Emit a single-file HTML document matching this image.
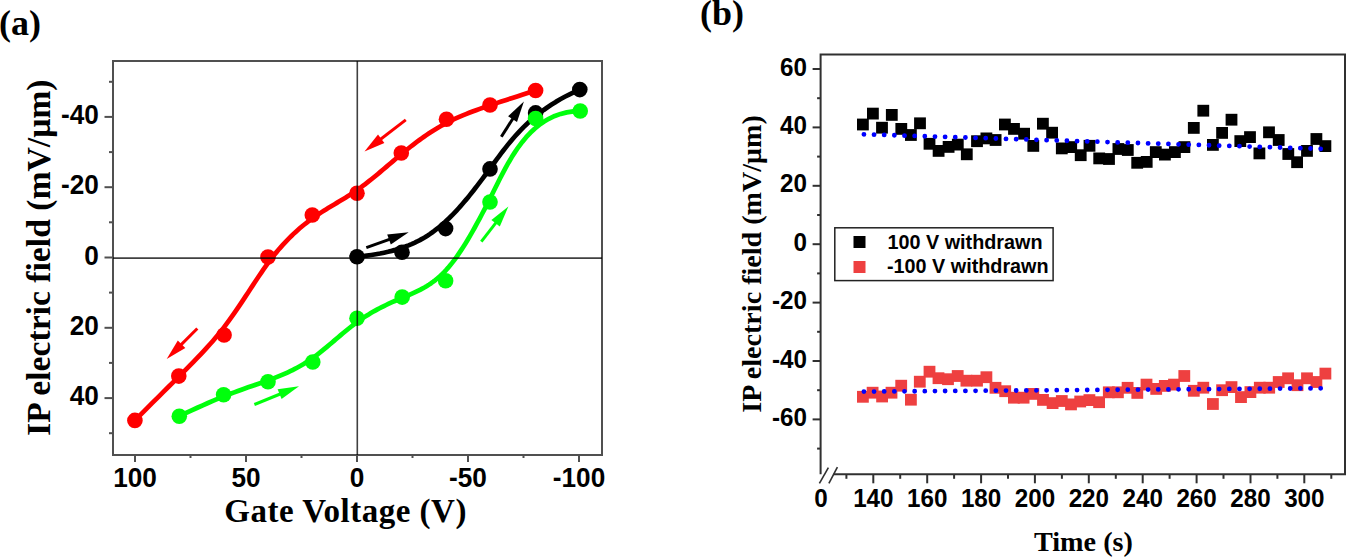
<!DOCTYPE html>
<html><head><meta charset="utf-8"><style>
html,body{margin:0;padding:0;background:#fff;}
body{width:1347px;height:557px;overflow:hidden;font-family:"Liberation Sans", sans-serif;}
svg{display:block;}
</style></head><body>
<svg width="1347" height="557" viewBox="0 0 1347 557">
<rect width="1347" height="557" fill="#fff"/>
<text transform="translate(-1.00,35.00)" font-family='"Liberation Serif", serif' font-weight="bold" font-size="36">(a)</text>
<text transform="translate(700.00,25.00)" font-family='"Liberation Serif", serif' font-weight="bold" font-size="36">(b)</text>
<rect x="113" y="61" width="489" height="394" fill="none" stroke="#505050" stroke-width="2"/>
<line x1="109.0" y1="81.8" x2="113.0" y2="81.8" stroke="#505050" stroke-width="2"/>
<line x1="104.5" y1="116.9" x2="113.0" y2="116.9" stroke="#505050" stroke-width="2"/>
<text transform="translate(98.80,124.00) scale(1,1.03)" text-anchor="end" font-family='"Liberation Sans", sans-serif' font-weight="bold" font-size="26.2">-40</text>
<line x1="109.0" y1="152.1" x2="113.0" y2="152.1" stroke="#505050" stroke-width="2"/>
<line x1="104.5" y1="187.2" x2="113.0" y2="187.2" stroke="#505050" stroke-width="2"/>
<text transform="translate(98.80,194.30) scale(1,1.03)" text-anchor="end" font-family='"Liberation Sans", sans-serif' font-weight="bold" font-size="26.2">-20</text>
<line x1="109.0" y1="222.3" x2="113.0" y2="222.3" stroke="#505050" stroke-width="2"/>
<line x1="104.5" y1="257.5" x2="113.0" y2="257.5" stroke="#505050" stroke-width="2"/>
<text transform="translate(98.80,264.60) scale(1,1.03)" text-anchor="end" font-family='"Liberation Sans", sans-serif' font-weight="bold" font-size="26.2">0</text>
<line x1="109.0" y1="292.6" x2="113.0" y2="292.6" stroke="#505050" stroke-width="2"/>
<line x1="104.5" y1="327.8" x2="113.0" y2="327.8" stroke="#505050" stroke-width="2"/>
<text transform="translate(98.80,334.90) scale(1,1.03)" text-anchor="end" font-family='"Liberation Sans", sans-serif' font-weight="bold" font-size="26.2">20</text>
<line x1="109.0" y1="362.9" x2="113.0" y2="362.9" stroke="#505050" stroke-width="2"/>
<line x1="104.5" y1="398.1" x2="113.0" y2="398.1" stroke="#505050" stroke-width="2"/>
<text transform="translate(98.80,405.20) scale(1,1.03)" text-anchor="end" font-family='"Liberation Sans", sans-serif' font-weight="bold" font-size="26.2">40</text>
<line x1="109.0" y1="433.2" x2="113.0" y2="433.2" stroke="#505050" stroke-width="2"/>
<line x1="579.0" y1="455" x2="579.0" y2="462.0" stroke="#505050" stroke-width="2"/>
<text transform="translate(579.00,487.10) scale(1,1.03)" text-anchor="middle" font-family='"Liberation Sans", sans-serif' font-weight="bold" font-size="26.2">-100</text>
<line x1="523.5" y1="455" x2="523.5" y2="458.0" stroke="#505050" stroke-width="2"/>
<line x1="468.0" y1="455" x2="468.0" y2="462.0" stroke="#505050" stroke-width="2"/>
<text transform="translate(468.00,487.10) scale(1,1.03)" text-anchor="middle" font-family='"Liberation Sans", sans-serif' font-weight="bold" font-size="26.2">-50</text>
<line x1="412.5" y1="455" x2="412.5" y2="458.0" stroke="#505050" stroke-width="2"/>
<line x1="357.0" y1="455" x2="357.0" y2="462.0" stroke="#505050" stroke-width="2"/>
<text transform="translate(357.00,487.10) scale(1,1.03)" text-anchor="middle" font-family='"Liberation Sans", sans-serif' font-weight="bold" font-size="26.2">0</text>
<line x1="301.5" y1="455" x2="301.5" y2="458.0" stroke="#505050" stroke-width="2"/>
<line x1="246.0" y1="455" x2="246.0" y2="462.0" stroke="#505050" stroke-width="2"/>
<text transform="translate(246.00,487.10) scale(1,1.03)" text-anchor="middle" font-family='"Liberation Sans", sans-serif' font-weight="bold" font-size="26.2">50</text>
<line x1="190.5" y1="455" x2="190.5" y2="458.0" stroke="#505050" stroke-width="2"/>
<line x1="135.0" y1="455" x2="135.0" y2="462.0" stroke="#505050" stroke-width="2"/>
<text transform="translate(135.00,487.10) scale(1,1.03)" text-anchor="middle" font-family='"Liberation Sans", sans-serif' font-weight="bold" font-size="26.2">100</text>
<path d="M357.00,256.80 L361.97,256.26 L366.74,255.66 L371.33,255.01 L375.75,254.29 L380.00,253.52 L384.08,252.68 L388.00,251.80 L391.77,250.86 L395.39,249.86 L398.88,248.81 L402.23,247.71 L405.45,246.56 L408.55,245.36 L411.54,244.12 L414.42,242.82 L417.20,241.48 L419.88,240.09 L422.47,238.66 L424.98,237.19 L427.41,235.67 L429.77,234.12 L432.07,232.52 L434.30,230.89 L436.49,229.21 L438.62,227.50 L440.72,225.76 L442.78,223.98 L444.82,222.16 L446.83,220.31 L448.81,218.43 L450.77,216.51 L452.71,214.56 L454.64,212.57 L456.54,210.55 L458.44,208.49 L460.32,206.39 L462.19,204.26 L464.05,202.09 L465.91,199.89 L467.77,197.65 L469.62,195.37 L471.48,193.05 L473.34,190.70 L475.20,188.30 L477.07,185.87 L478.96,183.40 L480.85,180.90 L482.76,178.35 L484.68,175.76 L486.62,173.14 L488.58,170.47 L490.57,167.77 L492.57,165.02 L494.61,162.24 L496.68,159.42 L498.79,156.56 L500.94,153.68 L503.15,150.77 L505.41,147.84 L507.75,144.89 L510.16,141.94 L512.66,138.98 L515.24,136.01 L517.92,133.05 L520.70,130.10 L523.60,127.15 L526.61,124.23 L529.75,121.32 L533.02,118.43 L536.43,115.58 L539.99,112.76 L543.70,109.98 L547.57,107.23 L551.62,104.54 L555.83,101.90 L560.23,99.31 L564.82,96.78 L569.61,94.32 L574.60,91.92 L579.80,89.60" fill="none" stroke="#000" stroke-width="4.7" stroke-linejoin="round"/>
<circle cx="357.0" cy="256.8" r="7.8" fill="#000"/>
<circle cx="402.0" cy="252.3" r="7.8" fill="#000"/>
<circle cx="445.6" cy="228.6" r="7.8" fill="#000"/>
<circle cx="490.0" cy="168.9" r="7.8" fill="#000"/>
<circle cx="535.6" cy="112.9" r="7.8" fill="#000"/>
<circle cx="579.8" cy="89.6" r="7.8" fill="#000"/>
<path d="M179.30,416.20 L185.61,413.18 L191.61,410.37 L197.33,407.74 L202.77,405.29 L207.95,403.01 L212.88,400.90 L217.57,398.93 L222.04,397.10 L226.30,395.40 L230.36,393.81 L234.23,392.34 L237.93,390.96 L241.47,389.67 L244.86,388.46 L248.11,387.31 L251.25,386.23 L254.27,385.18 L257.20,384.18 L260.04,383.20 L262.81,382.24 L265.52,381.28 L268.18,380.32 L270.80,379.36 L273.36,378.39 L275.89,377.42 L278.37,376.42 L280.82,375.42 L283.23,374.40 L285.60,373.35 L287.95,372.28 L290.26,371.19 L292.55,370.07 L294.82,368.92 L297.06,367.73 L299.29,366.50 L301.50,365.24 L303.70,363.93 L305.88,362.58 L308.06,361.18 L310.23,359.72 L312.39,358.22 L314.55,356.66 L316.72,355.05 L318.88,353.39 L321.03,351.69 L323.19,349.95 L325.35,348.18 L327.51,346.39 L329.67,344.57 L331.83,342.75 L333.98,340.91 L336.14,339.07 L338.30,337.23 L340.46,335.39 L342.62,333.57 L344.78,331.77 L346.95,329.98 L349.11,328.23 L351.28,326.51 L353.44,324.83 L355.62,323.19 L357.79,321.60 L359.96,320.07 L362.14,318.58 L364.32,317.14 L366.50,315.75 L368.68,314.41 L370.86,313.10 L373.04,311.84 L375.22,310.61 L377.40,309.42 L379.58,308.27 L381.76,307.15 L383.94,306.06 L386.12,304.99 L388.29,303.96 L390.47,302.95 L392.64,301.96 L394.80,300.99 L396.97,300.03 L399.13,299.10 L401.28,298.18 L403.44,297.27 L405.59,296.36 L407.73,295.46 L409.87,294.54 L412.01,293.61 L414.15,292.66 L416.28,291.67 L418.41,290.64 L420.54,289.56 L422.67,288.43 L424.79,287.23 L426.92,285.96 L429.05,284.61 L431.17,283.18 L433.30,281.65 L435.42,280.02 L437.55,278.27 L439.68,276.41 L441.81,274.43 L443.94,272.31 L446.07,270.05 L448.21,267.65 L450.35,265.09 L452.50,262.39 L454.65,259.55 L456.82,256.56 L459.00,253.42 L461.19,250.14 L463.40,246.72 L465.63,243.16 L467.87,239.45 L470.14,235.61 L472.44,231.62 L474.76,227.49 L477.10,223.22 L479.48,218.82 L481.89,214.27 L484.34,209.59 L486.82,204.77 L489.33,199.82 L491.89,194.73 L494.49,189.51 L497.14,184.17 L499.86,178.76 L502.67,173.31 L505.58,167.86 L508.62,162.44 L511.79,157.10 L515.11,151.87 L518.61,146.79 L522.29,141.89 L526.18,137.22 L530.30,132.81 L534.65,128.70 L539.27,124.92 L544.15,121.51 L549.33,118.52 L554.82,115.97 L560.63,113.91 L566.79,112.36 L573.31,111.38 L580.20,111.00" fill="none" stroke="#00ff0c" stroke-width="4.7" stroke-linejoin="round"/>
<circle cx="179.3" cy="416.2" r="7.8" fill="#00ff0c"/>
<circle cx="223.6" cy="394.8" r="7.8" fill="#00ff0c"/>
<circle cx="268.0" cy="381.7" r="7.8" fill="#00ff0c"/>
<circle cx="312.8" cy="362.0" r="7.8" fill="#00ff0c"/>
<circle cx="357.0" cy="318.3" r="7.8" fill="#00ff0c"/>
<circle cx="402.2" cy="297.1" r="7.8" fill="#00ff0c"/>
<circle cx="445.6" cy="280.8" r="7.8" fill="#00ff0c"/>
<circle cx="490.0" cy="202.0" r="7.8" fill="#00ff0c"/>
<circle cx="535.6" cy="118.5" r="7.8" fill="#00ff0c"/>
<circle cx="580.2" cy="111.0" r="7.8" fill="#00ff0c"/>
<path d="M535.60,90.50 L529.12,92.56 L522.96,94.53 L517.11,96.40 L511.55,98.19 L506.28,99.90 L501.28,101.53 L496.53,103.11 L492.01,104.62 L487.73,106.08 L483.65,107.49 L479.77,108.86 L476.08,110.20 L472.55,111.52 L469.17,112.81 L465.94,114.09 L462.83,115.37 L459.84,116.64 L456.94,117.92 L454.13,119.21 L451.38,120.52 L448.70,121.86 L446.05,123.23 L443.46,124.62 L440.90,126.04 L438.39,127.49 L435.91,128.97 L433.47,130.47 L431.06,132.00 L428.68,133.55 L426.33,135.13 L424.01,136.73 L421.71,138.35 L419.43,139.99 L417.18,141.65 L414.94,143.34 L412.72,145.04 L410.51,146.76 L408.31,148.50 L406.12,150.26 L403.94,152.04 L401.76,153.83 L399.59,155.63 L397.41,157.45 L395.24,159.28 L393.07,161.12 L390.91,162.96 L388.74,164.80 L386.58,166.64 L384.41,168.48 L382.25,170.30 L380.09,172.12 L377.93,173.93 L375.76,175.72 L373.60,177.49 L371.44,179.24 L369.28,180.96 L367.12,182.66 L364.96,184.32 L362.80,185.96 L360.64,187.55 L358.48,189.11 L356.32,190.63 L354.15,192.10 L351.99,193.54 L349.82,194.94 L347.66,196.31 L345.49,197.66 L343.32,198.99 L341.15,200.30 L338.99,201.60 L336.82,202.89 L334.65,204.19 L332.48,205.48 L330.31,206.78 L328.15,208.09 L325.98,209.41 L323.81,210.76 L321.64,212.13 L319.48,213.53 L317.31,214.96 L315.15,216.43 L312.98,217.94 L310.82,219.50 L308.66,221.11 L306.50,222.77 L304.34,224.48 L302.18,226.25 L300.02,228.07 L297.86,229.95 L295.71,231.89 L293.55,233.90 L291.40,235.96 L289.24,238.09 L287.09,240.29 L284.94,242.56 L282.79,244.90 L280.64,247.32 L278.49,249.80 L276.34,252.37 L274.20,255.01 L272.05,257.73 L269.90,260.53 L267.76,263.42 L265.62,266.39 L263.47,269.44 L261.32,272.56 L259.16,275.74 L256.99,278.99 L254.81,282.29 L252.61,285.64 L250.39,289.03 L248.15,292.46 L245.88,295.91 L243.59,299.39 L241.27,302.89 L238.91,306.41 L236.52,309.92 L234.09,313.44 L231.61,316.95 L229.10,320.45 L226.53,323.93 L223.92,327.39 L221.25,330.82 L218.53,334.21 L215.74,337.57 L212.88,340.93 L209.93,344.29 L206.88,347.68 L203.72,351.11 L200.44,354.61 L197.02,358.19 L193.45,361.86 L189.73,365.66 L185.84,369.59 L181.76,373.68 L177.49,377.94 L173.01,382.38 L168.32,387.04 L163.39,391.93 L158.22,397.06 L152.80,402.45 L147.12,408.13 L141.15,414.10 L134.90,420.40" fill="none" stroke="#ff0000" stroke-width="4.7" stroke-linejoin="round"/>
<circle cx="535.6" cy="90.5" r="7.8" fill="#ff0000"/>
<circle cx="490.0" cy="105.0" r="7.8" fill="#ff0000"/>
<circle cx="446.5" cy="119.2" r="7.8" fill="#ff0000"/>
<circle cx="401.3" cy="153.0" r="7.8" fill="#ff0000"/>
<circle cx="357.0" cy="193.3" r="7.8" fill="#ff0000"/>
<circle cx="312.3" cy="215.0" r="7.8" fill="#ff0000"/>
<circle cx="268.0" cy="257.0" r="7.8" fill="#ff0000"/>
<circle cx="224.1" cy="335.0" r="7.8" fill="#ff0000"/>
<circle cx="178.8" cy="376.1" r="7.8" fill="#ff0000"/>
<circle cx="134.9" cy="420.4" r="7.8" fill="#ff0000"/>
<line x1="357.3" y1="61" x2="357.3" y2="455" stroke="#000" stroke-opacity="0.75" stroke-width="1.6"/>
<line x1="113" y1="258.1" x2="602" y2="258.1" stroke="#000" stroke-opacity="0.75" stroke-width="1.6"/>
<line x1="405.8" y1="119.9" x2="379.6" y2="140.0" stroke="#ff0000" stroke-width="3"/>
<polygon points="364.5,151.5 378.0,134.5 384.4,142.9" fill="#ff0000"/>
<line x1="197.3" y1="328.5" x2="180.2" y2="345.6" stroke="#ff0000" stroke-width="3"/>
<polygon points="166.7,359.0 177.8,340.4 185.3,347.9" fill="#ff0000"/>
<line x1="366.3" y1="247.7" x2="390.8" y2="238.8" stroke="#000000" stroke-width="3"/>
<polygon points="408.7,232.3 390.8,244.5 387.2,234.5" fill="#000000"/>
<line x1="501.3" y1="136.7" x2="513.6" y2="117.5" stroke="#000000" stroke-width="3"/>
<polygon points="523.9,101.5 517.0,122.0 508.1,116.3" fill="#000000"/>
<line x1="481.3" y1="241.7" x2="496.8" y2="221.6" stroke="#00ff0c" stroke-width="3"/>
<polygon points="508.4,206.5 499.8,226.4 491.4,219.9" fill="#00ff0c"/>
<line x1="254.4" y1="404.5" x2="281.4" y2="393.5" stroke="#00ff0c" stroke-width="3"/>
<polygon points="299.0,386.3 281.6,399.1 277.6,389.3" fill="#00ff0c"/>
<text transform="translate(224.30,522.10)" letter-spacing="0.5" font-family='"Liberation Serif", serif' font-weight="bold" font-size="33">Gate Voltage (V)</text>
<text transform="translate(50.00,257.70) rotate(-90)" text-anchor="middle" font-family='"Liberation Serif", serif' font-weight="bold" font-size="33.66">IP electric field (mV/μm)</text>
<polyline points="820.6,474.3 820.6,54.4 1345.0,54.4 1345.0,474.3" fill="none" stroke="#303030" stroke-width="2"/>
<line x1="833.5" y1="474.3" x2="1346.0" y2="474.3" stroke="#303030" stroke-width="2"/>
<line x1="819.4" y1="483.3" x2="828.4" y2="467.6" stroke="#303030" stroke-width="1.6"/>
<line x1="828.9" y1="483.3" x2="837.4" y2="467.1" stroke="#303030" stroke-width="1.6"/>
<line x1="817.1" y1="448.6" x2="820.6" y2="448.6" stroke="#303030" stroke-width="2"/>
<line x1="812.6" y1="419.4" x2="820.6" y2="419.4" stroke="#303030" stroke-width="2"/>
<text transform="translate(807.00,425.90) scale(1,1.07)" text-anchor="end" font-family='"Liberation Sans", sans-serif' font-weight="bold" font-size="24.2">-60</text>
<line x1="817.1" y1="390.2" x2="820.6" y2="390.2" stroke="#303030" stroke-width="2"/>
<line x1="812.6" y1="361.0" x2="820.6" y2="361.0" stroke="#303030" stroke-width="2"/>
<text transform="translate(807.00,367.50) scale(1,1.07)" text-anchor="end" font-family='"Liberation Sans", sans-serif' font-weight="bold" font-size="24.2">-40</text>
<line x1="817.1" y1="331.8" x2="820.6" y2="331.8" stroke="#303030" stroke-width="2"/>
<line x1="812.6" y1="302.6" x2="820.6" y2="302.6" stroke="#303030" stroke-width="2"/>
<text transform="translate(807.00,309.10) scale(1,1.07)" text-anchor="end" font-family='"Liberation Sans", sans-serif' font-weight="bold" font-size="24.2">-20</text>
<line x1="817.1" y1="273.4" x2="820.6" y2="273.4" stroke="#303030" stroke-width="2"/>
<line x1="812.6" y1="244.2" x2="820.6" y2="244.2" stroke="#303030" stroke-width="2"/>
<text transform="translate(807.00,250.70) scale(1,1.07)" text-anchor="end" font-family='"Liberation Sans", sans-serif' font-weight="bold" font-size="24.2">0</text>
<line x1="817.1" y1="215.0" x2="820.6" y2="215.0" stroke="#303030" stroke-width="2"/>
<line x1="812.6" y1="185.8" x2="820.6" y2="185.8" stroke="#303030" stroke-width="2"/>
<text transform="translate(807.00,192.30) scale(1,1.07)" text-anchor="end" font-family='"Liberation Sans", sans-serif' font-weight="bold" font-size="24.2">20</text>
<line x1="817.1" y1="156.6" x2="820.6" y2="156.6" stroke="#303030" stroke-width="2"/>
<line x1="812.6" y1="127.4" x2="820.6" y2="127.4" stroke="#303030" stroke-width="2"/>
<text transform="translate(807.00,133.90) scale(1,1.07)" text-anchor="end" font-family='"Liberation Sans", sans-serif' font-weight="bold" font-size="24.2">40</text>
<line x1="817.1" y1="98.2" x2="820.6" y2="98.2" stroke="#303030" stroke-width="2"/>
<line x1="812.6" y1="69.0" x2="820.6" y2="69.0" stroke="#303030" stroke-width="2"/>
<text transform="translate(807.00,75.50) scale(1,1.07)" text-anchor="end" font-family='"Liberation Sans", sans-serif' font-weight="bold" font-size="24.2">60</text>
<line x1="846.4" y1="474.3" x2="846.4" y2="478.8" stroke="#303030" stroke-width="2"/>
<line x1="873.3" y1="474.3" x2="873.3" y2="483.3" stroke="#303030" stroke-width="2"/>
<text transform="translate(873.30,507.40) scale(1,1.07)" text-anchor="middle" font-family='"Liberation Sans", sans-serif' font-weight="bold" font-size="24.2">140</text>
<line x1="900.2" y1="474.3" x2="900.2" y2="478.8" stroke="#303030" stroke-width="2"/>
<line x1="927.2" y1="474.3" x2="927.2" y2="483.3" stroke="#303030" stroke-width="2"/>
<text transform="translate(927.18,507.40) scale(1,1.07)" text-anchor="middle" font-family='"Liberation Sans", sans-serif' font-weight="bold" font-size="24.2">160</text>
<line x1="954.1" y1="474.3" x2="954.1" y2="478.8" stroke="#303030" stroke-width="2"/>
<line x1="981.1" y1="474.3" x2="981.1" y2="483.3" stroke="#303030" stroke-width="2"/>
<text transform="translate(981.06,507.40) scale(1,1.07)" text-anchor="middle" font-family='"Liberation Sans", sans-serif' font-weight="bold" font-size="24.2">180</text>
<line x1="1008.0" y1="474.3" x2="1008.0" y2="478.8" stroke="#303030" stroke-width="2"/>
<line x1="1034.9" y1="474.3" x2="1034.9" y2="483.3" stroke="#303030" stroke-width="2"/>
<text transform="translate(1034.94,507.40) scale(1,1.07)" text-anchor="middle" font-family='"Liberation Sans", sans-serif' font-weight="bold" font-size="24.2">200</text>
<line x1="1061.9" y1="474.3" x2="1061.9" y2="478.8" stroke="#303030" stroke-width="2"/>
<line x1="1088.8" y1="474.3" x2="1088.8" y2="483.3" stroke="#303030" stroke-width="2"/>
<text transform="translate(1088.82,507.40) scale(1,1.07)" text-anchor="middle" font-family='"Liberation Sans", sans-serif' font-weight="bold" font-size="24.2">220</text>
<line x1="1115.8" y1="474.3" x2="1115.8" y2="478.8" stroke="#303030" stroke-width="2"/>
<line x1="1142.7" y1="474.3" x2="1142.7" y2="483.3" stroke="#303030" stroke-width="2"/>
<text transform="translate(1142.70,507.40) scale(1,1.07)" text-anchor="middle" font-family='"Liberation Sans", sans-serif' font-weight="bold" font-size="24.2">240</text>
<line x1="1169.6" y1="474.3" x2="1169.6" y2="478.8" stroke="#303030" stroke-width="2"/>
<line x1="1196.6" y1="474.3" x2="1196.6" y2="483.3" stroke="#303030" stroke-width="2"/>
<text transform="translate(1196.58,507.40) scale(1,1.07)" text-anchor="middle" font-family='"Liberation Sans", sans-serif' font-weight="bold" font-size="24.2">260</text>
<line x1="1223.5" y1="474.3" x2="1223.5" y2="478.8" stroke="#303030" stroke-width="2"/>
<line x1="1250.5" y1="474.3" x2="1250.5" y2="483.3" stroke="#303030" stroke-width="2"/>
<text transform="translate(1250.46,507.40) scale(1,1.07)" text-anchor="middle" font-family='"Liberation Sans", sans-serif' font-weight="bold" font-size="24.2">280</text>
<line x1="1277.4" y1="474.3" x2="1277.4" y2="478.8" stroke="#303030" stroke-width="2"/>
<line x1="1304.3" y1="474.3" x2="1304.3" y2="483.3" stroke="#303030" stroke-width="2"/>
<text transform="translate(1304.34,507.40) scale(1,1.07)" text-anchor="middle" font-family='"Liberation Sans", sans-serif' font-weight="bold" font-size="24.2">300</text>
<line x1="1331.3" y1="474.3" x2="1331.3" y2="478.8" stroke="#303030" stroke-width="2"/>
<text transform="translate(821.00,507.40) scale(1,1.07)" text-anchor="middle" font-family='"Liberation Sans", sans-serif' font-weight="bold" font-size="24.2">0</text>
<rect x="857.0" y="118.6" width="11.8" height="11.8" fill="#000"/>
<rect x="867.0" y="107.7" width="11.8" height="11.8" fill="#000"/>
<rect x="876.1" y="121.8" width="11.8" height="11.8" fill="#000"/>
<rect x="885.9" y="109.0" width="11.8" height="11.8" fill="#000"/>
<rect x="895.4" y="123.0" width="11.8" height="11.8" fill="#000"/>
<rect x="905.0" y="129.1" width="11.8" height="11.8" fill="#000"/>
<rect x="914.1" y="117.4" width="11.8" height="11.8" fill="#000"/>
<rect x="923.6" y="137.9" width="11.8" height="11.8" fill="#000"/>
<rect x="932.7" y="145.0" width="11.8" height="11.8" fill="#000"/>
<rect x="942.7" y="141.0" width="11.8" height="11.8" fill="#000"/>
<rect x="951.9" y="138.7" width="11.8" height="11.8" fill="#000"/>
<rect x="960.9" y="148.4" width="11.8" height="11.8" fill="#000"/>
<rect x="971.1" y="135.3" width="11.8" height="11.8" fill="#000"/>
<rect x="980.5" y="132.5" width="11.8" height="11.8" fill="#000"/>
<rect x="989.7" y="134.1" width="11.8" height="11.8" fill="#000"/>
<rect x="999.0" y="118.6" width="11.8" height="11.8" fill="#000"/>
<rect x="1008.1" y="123.0" width="11.8" height="11.8" fill="#000"/>
<rect x="1018.2" y="127.8" width="11.8" height="11.8" fill="#000"/>
<rect x="1027.4" y="140.0" width="11.8" height="11.8" fill="#000"/>
<rect x="1037.0" y="117.8" width="11.8" height="11.8" fill="#000"/>
<rect x="1046.2" y="126.8" width="11.8" height="11.8" fill="#000"/>
<rect x="1055.9" y="142.5" width="11.8" height="11.8" fill="#000"/>
<rect x="1065.3" y="141.2" width="11.8" height="11.8" fill="#000"/>
<rect x="1074.8" y="149.3" width="11.8" height="11.8" fill="#000"/>
<rect x="1083.6" y="139.9" width="11.8" height="11.8" fill="#000"/>
<rect x="1093.3" y="152.5" width="11.8" height="11.8" fill="#000"/>
<rect x="1103.1" y="153.1" width="11.8" height="11.8" fill="#000"/>
<rect x="1112.5" y="143.1" width="11.8" height="11.8" fill="#000"/>
<rect x="1121.9" y="144.1" width="11.8" height="11.8" fill="#000"/>
<rect x="1131.3" y="156.9" width="11.8" height="11.8" fill="#000"/>
<rect x="1140.8" y="156.0" width="11.8" height="11.8" fill="#000"/>
<rect x="1149.9" y="146.2" width="11.8" height="11.8" fill="#000"/>
<rect x="1159.0" y="148.7" width="11.8" height="11.8" fill="#000"/>
<rect x="1169.0" y="146.2" width="11.8" height="11.8" fill="#000"/>
<rect x="1178.5" y="141.2" width="11.8" height="11.8" fill="#000"/>
<rect x="1187.9" y="122.0" width="11.8" height="11.8" fill="#000"/>
<rect x="1197.4" y="104.8" width="11.8" height="11.8" fill="#000"/>
<rect x="1207.0" y="139.0" width="11.8" height="11.8" fill="#000"/>
<rect x="1216.2" y="127.0" width="11.8" height="11.8" fill="#000"/>
<rect x="1225.6" y="113.8" width="11.8" height="11.8" fill="#000"/>
<rect x="1234.4" y="135.2" width="11.8" height="11.8" fill="#000"/>
<rect x="1244.1" y="131.2" width="11.8" height="11.8" fill="#000"/>
<rect x="1253.5" y="147.5" width="11.8" height="11.8" fill="#000"/>
<rect x="1263.1" y="126.4" width="11.8" height="11.8" fill="#000"/>
<rect x="1272.8" y="134.1" width="11.8" height="11.8" fill="#000"/>
<rect x="1282.4" y="148.1" width="11.8" height="11.8" fill="#000"/>
<rect x="1291.2" y="156.3" width="11.8" height="11.8" fill="#000"/>
<rect x="1301.1" y="145.0" width="11.8" height="11.8" fill="#000"/>
<rect x="1310.5" y="133.1" width="11.8" height="11.8" fill="#000"/>
<rect x="1319.5" y="140.2" width="11.8" height="11.8" fill="#000"/>
<rect x="857.0" y="390.9" width="11.8" height="11.8" fill="#ee4040"/>
<rect x="866.7" y="386.8" width="11.8" height="11.8" fill="#ee4040"/>
<rect x="876.2" y="390.6" width="11.8" height="11.8" fill="#ee4040"/>
<rect x="885.6" y="386.8" width="11.8" height="11.8" fill="#ee4040"/>
<rect x="895.3" y="379.8" width="11.8" height="11.8" fill="#ee4040"/>
<rect x="905.0" y="393.8" width="11.8" height="11.8" fill="#ee4040"/>
<rect x="913.9" y="375.8" width="11.8" height="11.8" fill="#ee4040"/>
<rect x="923.6" y="365.8" width="11.8" height="11.8" fill="#ee4040"/>
<rect x="932.6" y="372.3" width="11.8" height="11.8" fill="#ee4040"/>
<rect x="942.1" y="373.3" width="11.8" height="11.8" fill="#ee4040"/>
<rect x="951.8" y="370.1" width="11.8" height="11.8" fill="#ee4040"/>
<rect x="960.5" y="374.8" width="11.8" height="11.8" fill="#ee4040"/>
<rect x="971.1" y="374.8" width="11.8" height="11.8" fill="#ee4040"/>
<rect x="980.5" y="371.3" width="11.8" height="11.8" fill="#ee4040"/>
<rect x="989.6" y="381.9" width="11.8" height="11.8" fill="#ee4040"/>
<rect x="999.3" y="385.3" width="11.8" height="11.8" fill="#ee4040"/>
<rect x="1008.0" y="391.8" width="11.8" height="11.8" fill="#ee4040"/>
<rect x="1017.7" y="391.8" width="11.8" height="11.8" fill="#ee4040"/>
<rect x="1027.4" y="388.0" width="11.8" height="11.8" fill="#ee4040"/>
<rect x="1037.1" y="394.0" width="11.8" height="11.8" fill="#ee4040"/>
<rect x="1046.7" y="397.2" width="11.8" height="11.8" fill="#ee4040"/>
<rect x="1055.9" y="395.1" width="11.8" height="11.8" fill="#ee4040"/>
<rect x="1065.1" y="398.5" width="11.8" height="11.8" fill="#ee4040"/>
<rect x="1074.3" y="395.6" width="11.8" height="11.8" fill="#ee4040"/>
<rect x="1083.5" y="394.2" width="11.8" height="11.8" fill="#ee4040"/>
<rect x="1093.2" y="396.3" width="11.8" height="11.8" fill="#ee4040"/>
<rect x="1102.9" y="386.4" width="11.8" height="11.8" fill="#ee4040"/>
<rect x="1112.0" y="386.4" width="11.8" height="11.8" fill="#ee4040"/>
<rect x="1121.7" y="381.9" width="11.8" height="11.8" fill="#ee4040"/>
<rect x="1131.4" y="387.0" width="11.8" height="11.8" fill="#ee4040"/>
<rect x="1140.6" y="378.7" width="11.8" height="11.8" fill="#ee4040"/>
<rect x="1150.3" y="383.0" width="11.8" height="11.8" fill="#ee4040"/>
<rect x="1158.9" y="380.0" width="11.8" height="11.8" fill="#ee4040"/>
<rect x="1168.1" y="378.7" width="11.8" height="11.8" fill="#ee4040"/>
<rect x="1178.4" y="370.1" width="11.8" height="11.8" fill="#ee4040"/>
<rect x="1187.9" y="384.9" width="11.8" height="11.8" fill="#ee4040"/>
<rect x="1197.4" y="381.8" width="11.8" height="11.8" fill="#ee4040"/>
<rect x="1207.0" y="398.1" width="11.8" height="11.8" fill="#ee4040"/>
<rect x="1216.2" y="384.3" width="11.8" height="11.8" fill="#ee4040"/>
<rect x="1225.6" y="381.2" width="11.8" height="11.8" fill="#ee4040"/>
<rect x="1235.1" y="391.2" width="11.8" height="11.8" fill="#ee4040"/>
<rect x="1244.5" y="386.2" width="11.8" height="11.8" fill="#ee4040"/>
<rect x="1253.9" y="381.8" width="11.8" height="11.8" fill="#ee4040"/>
<rect x="1263.3" y="381.8" width="11.8" height="11.8" fill="#ee4040"/>
<rect x="1272.8" y="376.1" width="11.8" height="11.8" fill="#ee4040"/>
<rect x="1282.2" y="372.4" width="11.8" height="11.8" fill="#ee4040"/>
<rect x="1291.6" y="379.3" width="11.8" height="11.8" fill="#ee4040"/>
<rect x="1301.1" y="372.4" width="11.8" height="11.8" fill="#ee4040"/>
<rect x="1310.5" y="376.1" width="11.8" height="11.8" fill="#ee4040"/>
<rect x="1319.5" y="367.7" width="11.8" height="11.8" fill="#ee4040"/>
<line x1="863.90" y1="134.30" x2="1320.66" y2="148.80" stroke="#0000ff" stroke-width="4.8" stroke-dasharray="0.01 10.1451" stroke-linecap="round"/>
<line x1="863.90" y1="391.60" x2="1320.66" y2="388.30" stroke="#0000ff" stroke-width="4.8" stroke-dasharray="0.01 10.1403" stroke-linecap="round"/>
<rect x="834.8" y="227.8" width="218.3" height="52.8" fill="#fff" stroke="#222" stroke-width="1.5"/>
<rect x="853.5" y="236" width="12" height="12" fill="#000"/>
<rect x="853.5" y="261" width="12" height="12" fill="#ee4040"/>
<text transform="translate(887.50,249.00)" font-family='"Liberation Sans", sans-serif' font-weight="bold" font-size="19.8">100 V withdrawn</text>
<text transform="translate(887.00,273.00)" font-family='"Liberation Sans", sans-serif' font-weight="bold" font-size="19.8">-100 V withdrawn</text>
<text transform="translate(1034.00,550.70)" font-family='"Liberation Serif", serif' font-weight="bold" font-size="28.2">Time (s)</text>
<text transform="translate(761.00,264.00) rotate(-90)" text-anchor="middle" font-family='"Liberation Serif", serif' font-weight="bold" font-size="28.1">IP electric field (mV/μm)</text>
</svg>
</body></html>
